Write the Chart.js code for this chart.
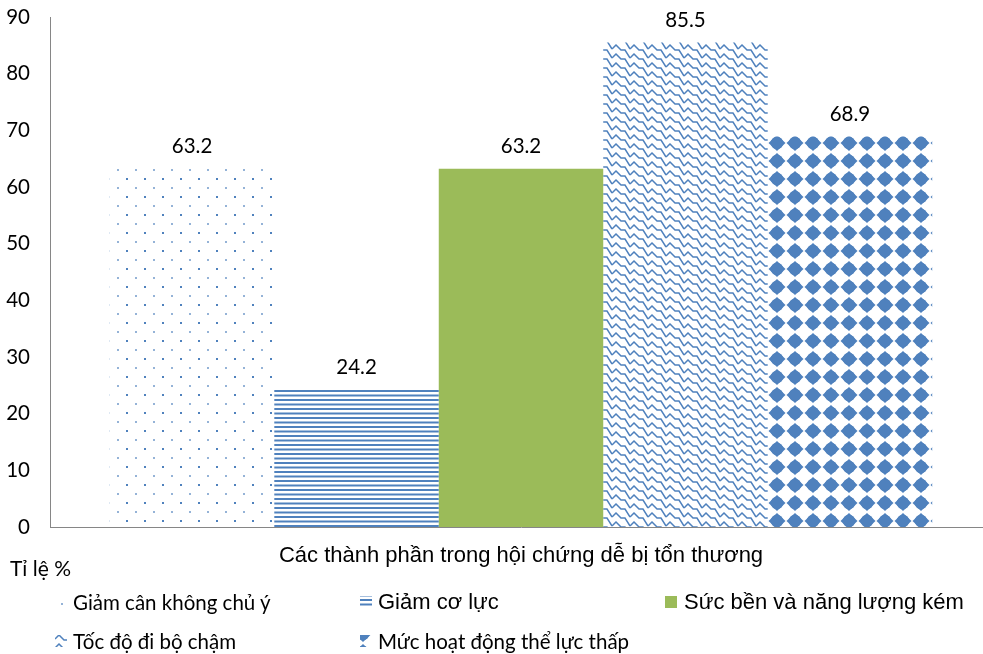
<!DOCTYPE html>
<html>
<head>
<meta charset="utf-8">
<script src="https://cdn.jsdelivr.net/npm/chart.js@4/dist/chart.umd.min.js"></script>
<style>
  html, body { margin: 0; padding: 0; background: #fff; overflow: hidden; }
  #wrap { position: relative; width: 992px; height: 654px; }
  #chartBox { position: absolute; left: 0; top: 0; width: 992px; height: 654px; }
  .calibri { font-family: Lato, "Open Sans", sans-serif; font-size: 20.5px; color: #000; }
  .arial { font-family: "Liberation Sans", Arial, sans-serif; font-size: 22px; color: #000; }
  .lbl { position: absolute; white-space: nowrap; line-height: 1; transform: translateY(-50%); }
  .icon { position: absolute; width: 12px; height: 12px; }
</style>
</head>
<body>
<div id="wrap">
  <div id="chartBox"><canvas id="chart"></canvas></div>
  <div class="lbl calibri" style="left:10px; top:567px; font-size:21px;">Tỉ lệ %</div>
  <div id="legend"></div>
</div>
<script>
// Category, series and axis values
const categories = ['Các thành phần trong hội chứng dễ bị tổn thương'];
const seriesNames = [
  'Giảm cân không chủ ý',
  'Giảm cơ lực',
  'Sức bền và năng lượng kém',
  'Tốc độ đi bộ chậm',
  'Mức hoạt động thể lực thấp'
];
const seriesValues = [63.2, 24.2, 63.2, 85.5, 68.9];
const yTickValues = [0, 10, 20, 30, 40, 50, 60, 70, 80, 90];

const BLUE = '#4f81bd';
const GREEN = '#9bbb59';

// Fill styles for each series: hatch patterns in blue, one solid green
const fillKinds = ['dots', 'hlines', 'solid', 'wave', 'diamonds'];

function makeTile(kind) {
  const c = document.createElement('canvas');
  const g = c.getContext('2d');
  if (kind === 'dots') {
    c.width = 18; c.height = 18;
    g.fillStyle = 'rgba(79,129,189,0.6)';
    g.fillRect(9, 7, 2, 2);
    g.fillStyle = BLUE;
    g.fillRect(0, 16, 2, 2);
  } else if (kind === 'hlines') {
    c.width = 4; c.height = 9;
    g.fillStyle = BLUE;
    g.fillRect(0, 3, 4, 2);
    g.fillRect(0, 7.5, 4, 2);
    g.fillRect(0, -1.5, 4, 2);
  } else if (kind === 'wave') {
    // a wiggly line that steps down one row per tile width, so it joins up diagonally
    c.width = 18; c.height = 9;
    g.strokeStyle = BLUE;
    g.lineWidth = 1.5;
    g.lineJoin = 'miter';
    for (const dy of [-9, 0, 9]) {
      g.beginPath();
      g.moveTo(0, dy + 4);
      g.lineTo(4, dy + 0);
      g.lineTo(9, dy + 5);
      g.lineTo(13, dy + 5);
      g.lineTo(18, dy + 13);
      g.stroke();
    }
  } else if (kind === 'diamonds') {
    c.width = 18; c.height = 18;
    g.fillStyle = BLUE;
    for (const dx of [-18, 0, 18]) {
      for (const dy of [-18, 0, 18]) {
        const cx = 3 + dx, cy = 17 + dy;
        g.beginPath();
        g.moveTo(cx, cy - 8);
        g.lineTo(cx + 8.5, cy);
        g.lineTo(cx, cy + 8);
        g.lineTo(cx - 8.5, cy);
        g.closePath();
        g.fill();
        g.beginPath();
        g.arc(cx, cy, 6.2, 0, Math.PI * 2);
        g.fill();
      }
    }
  }
  return c;
}

function makeFill(ctx, kind) {
  if (kind === 'solid') return GREEN;
  return ctx.createPattern(makeTile(kind), 'repeat');
}

const canvas = document.getElementById('chart');
const ctx = canvas.getContext('2d');

const datasets = seriesNames.map((name, i) => ({
  label: name,
  data: [seriesValues[i]],
  backgroundColor: makeFill(ctx, fillKinds[i]),
  borderWidth: 0,
  categoryPercentage: 0.873,
  barPercentage: 1.0
}));

// Value labels above each bar
const valueLabels = {
  id: 'valueLabels',
  afterDatasetsDraw(chart) {
    const c = chart.ctx;
    c.save();
    c.font = '20.5px Lato, "Open Sans", sans-serif';
    c.fillStyle = '#000';
    c.textAlign = 'center';
    c.textBaseline = 'middle';
    chart.data.datasets.forEach((ds, i) => {
      const meta = chart.getDatasetMeta(i);
      meta.data.forEach((bar, j) => {
        c.fillText(ds.data[j].toFixed(1), bar.x, bar.y - 22);
      });
    });
    c.restore();
  }
};

new Chart(ctx, {
  type: 'bar',
  data: { labels: categories, datasets },
  options: {
    responsive: true,
    maintainAspectRatio: false,
    animation: false,
    layout: { padding: { top: 17, left: 0, right: 0, bottom: 0 } },
    plugins: { legend: { display: false }, tooltip: { enabled: false } },
    scales: {
      x: {
        grid: { display: false, drawTicks: false, tickLength: 0 },
        border: { display: true, color: '#868686', width: 1 },
        ticks: {
          color: '#000',
          padding: 16,
          font: { family: '"Liberation Sans", Arial, sans-serif', size: 22 }
        },
        afterFit(s) { s.height = 127; }
      },
      y: {
        min: 0,
        max: 90,
        afterBuildTicks(s) { s.ticks = yTickValues.map(v => ({ value: v })); },
        grid: { display: false, drawTicks: false, tickLength: 0 },
        border: { display: true, color: '#868686', width: 1 },
        ticks: {
          color: '#000',
          padding: 20,
          font: { family: 'Lato, "Open Sans", sans-serif', size: 20.5 }
        },
        afterFit(s) {
          s.width = 50;
          s.paddingTop = 0;
          s.paddingBottom = 0;
        }
      }
    }
  },
  plugins: [valueLabels]
});

// Legend laid out in two rows
const legendSlots = [
  { x: 52, y: 602, font: 'calibri' },
  { x: 360, y: 602, font: 'arial' },
  { x: 665, y: 602, font: 'arial' },
  { x: 55, y: 641, font: 'calibri' },
  { x: 360, y: 641, font: 'calibri' }
];
const textX = [73, 378, 684, 73, 378];
const legend = document.getElementById('legend');
seriesNames.forEach((name, i) => {
  const slot = legendSlots[i];
  const ic = document.createElement('canvas');
  ic.width = 12; ic.height = 12;
  ic.className = 'icon';
  ic.style.left = slot.x + 'px';
  ic.style.top = (slot.y - 6) + 'px';
  const g = ic.getContext('2d');
  g.fillStyle = makeFill(g, fillKinds[i]);
  g.fillRect(0, 0, 12, 12);
  legend.appendChild(ic);
  const t = document.createElement('div');
  t.className = 'lbl ' + slot.font;
  t.style.left = textX[i] + 'px';
  t.style.top = slot.y + 'px';
  t.textContent = name;
  legend.appendChild(t);
});
</script>
</body>
</html>
